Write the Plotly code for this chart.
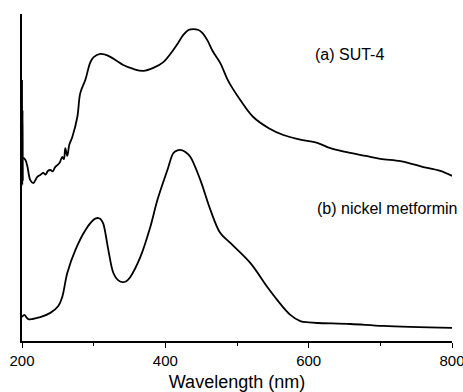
import plotly.graph_objects as go

# (a) SUT-4
wl_a = [200, 200.4, 200.8, 201.2, 201.6, 204.6, 207.4, 211.6, 215.8, 221.3, 225.5, 229.7, 233.0, 236.0,
        239.5, 243.0, 246.0, 249.3, 252.5, 256.2, 258.5, 260.4, 263.2, 266.0, 270.2, 277.2, 281.3,
        288.3, 295.3, 300.0, 309.2, 316.0, 323.2, 332.0, 341.3, 355.3, 369.2, 383.2, 397.2, 411.1, 418.0,
        425.1, 432.3, 439.1, 446.3, 451.6, 458.6, 466.0, 476.7, 486.5, 493.4, 504.6, 522.7, 545.0, 564.6,
        584.1, 598.0, 612.0, 630.2, 658.1, 680.0, 700.0, 727.9, 745.0, 760.0, 783.7, 800.0]
abs_a = [0.798, 0.477, 0.706, 0.492, 0.560, 0.554, 0.535, 0.492, 0.483, 0.502, 0.508, 0.514, 0.509, 0.520,
         0.523, 0.519, 0.531, 0.538, 0.545, 0.563, 0.556, 0.590, 0.566, 0.600, 0.624, 0.685, 0.758,
         0.798, 0.852, 0.868, 0.878, 0.876, 0.869, 0.857, 0.844, 0.832, 0.826, 0.835, 0.853, 0.890, 0.912,
         0.936, 0.951, 0.954, 0.951, 0.942, 0.920, 0.887, 0.850, 0.801, 0.774, 0.737, 0.685, 0.650, 0.630,
         0.618, 0.612, 0.606, 0.590, 0.575, 0.566, 0.557, 0.550, 0.541, 0.532, 0.520, 0.505]

# (b) nickel metformin
wl_b = [200, 203.2, 208.8, 225.5, 239.5, 250.7, 256.2, 263.2, 274.4, 288.4, 299.5, 303.0, 306.5, 310.0, 313.5,
        320.5, 327.5, 334.0, 340.0, 345.5, 351.2, 365.2, 379.1, 388.9, 402.9, 411.3, 416.9, 422.4, 428.0,
        435.0, 448.9, 462.9, 476.7, 490.7, 518.5, 542.3, 556.3, 574.4, 588.3, 600.0, 612.0, 658.1, 704.1, 800.0]
abs_b = [0.073, 0.080, 0.067, 0.073, 0.086, 0.107, 0.135, 0.208, 0.278, 0.339, 0.370, 0.375, 0.376, 0.372, 0.358,
         0.278, 0.208, 0.186, 0.180, 0.183, 0.196, 0.257, 0.349, 0.431, 0.523, 0.575, 0.583, 0.584, 0.578,
         0.563, 0.492, 0.401, 0.330, 0.300, 0.239, 0.165, 0.125, 0.080, 0.061, 0.057, 0.055, 0.052, 0.046, 0.040]

labels = ["(a) SUT-4", "(b) nickel metformin"]
x_ticks = [200, 400, 600, 800]

fig = go.Figure()
fig.add_trace(go.Scatter(x=wl_a, y=abs_a, mode="lines",
                         line=dict(color="black", width=1.8, shape="spline", smoothing=1.0),
                         showlegend=False))
fig.add_trace(go.Scatter(x=wl_b, y=abs_b, mode="lines",
                         line=dict(color="black", width=1.8, shape="spline", smoothing=1.0),
                         showlegend=False))

fig.add_annotation(x=0.677, y=0.875, xref="paper", yref="paper", text=labels[0],
                   showarrow=False, xanchor="left", yanchor="middle",
                   font=dict(family="Liberation Sans, Arial", size=16, color="black"))
fig.add_annotation(x=0.682, y=0.404, xref="paper", yref="paper", text=labels[1],
                   showarrow=False, xanchor="left", yanchor="middle",
                   font=dict(family="Liberation Sans, Arial", size=16, color="black"))

fig.update_layout(
    width=463, height=392,
    margin=dict(l=22, r=11, t=14, b=51),
    paper_bgcolor="white", plot_bgcolor="white",
    font=dict(family="Liberation Sans, Arial", color="black"),
    xaxis=dict(range=[200, 800], tickvals=x_ticks, ticktext=[str(v) for v in x_ticks],
               showline=True, linecolor="black", linewidth=1.5,
               ticks="outside", ticklen=5, tickwidth=1.2, tickcolor="black",
               minor=dict(tickvals=[300, 500, 700], ticks="outside", ticklen=3,
                          tickcolor="black", tickwidth=1.2),
               showgrid=False, zeroline=False, automargin=False,
               ticklabeloverflow="allow",
               tickfont=dict(size=15),
               title=dict(text="Wavelength (nm)", font=dict(size=18), standoff=8)),
    yaxis=dict(range=[0, 1], showline=True, linecolor="black", linewidth=1.5,
               showticklabels=False, ticks="", showgrid=False, zeroline=False,
               automargin=False),
)

fig.write_html("out.html", config={"displayModeBar": False},
               post_script="document.body.style.margin='0';document.body.style.overflow='hidden';")
